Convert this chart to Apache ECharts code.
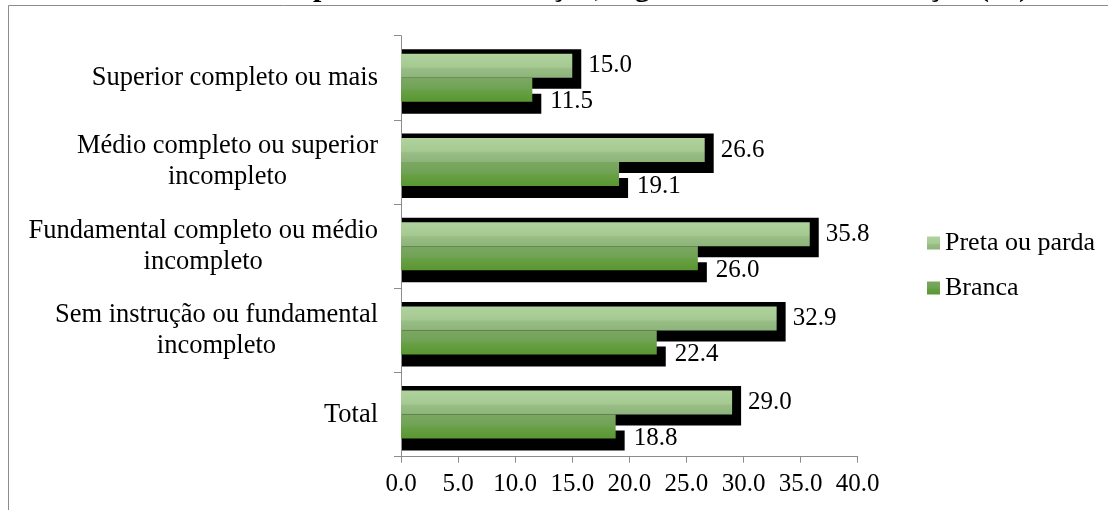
<!DOCTYPE html>
<html>
<head>
<meta charset="utf-8">
<script src="https://cdn.jsdelivr.net/npm/echarts@6/dist/echarts.min.js"></script>
<style>
html,body{margin:0;padding:0;background:#fff;}
#chart{width:1108px;height:510px;}
</style>
</head>
<body>
<div id="chart"></div>
<script>
// ---- data ----
const titleText = 'Taxa composta de subutilização, segundo o nível de instrução (%)';
const categories = [
  'Superior completo ou mais',
  'Médio completo ou superior\nincompleto',
  'Fundamental completo ou médio\nincompleto',
  'Sem instrução ou fundamental\nincompleto',
  'Total'
];
const seriesNames = ['Preta ou parda', 'Branca'];
const pretaParda = [15.0, 26.6, 35.8, 32.9, 29.0];
const branca = [11.5, 19.1, 26.0, 22.4, 18.8];
const xTicks = { min: 0, max: 40, interval: 5 };

// ---- styling ----
const FONT = "'Liberation Serif', 'Times New Roman', serif";
const GAP = 0.43;
const lightGrad = new echarts.graphic.LinearGradient(0, 0, 0, 1, [
  {offset: 0, color: '#b0d39e'},
  {offset: 0.55, color: '#a5c991'},
  {offset: 0.62, color: '#98be85'},
  {offset: 1, color: '#8cb379'}
]);
const darkGrad = new echarts.graphic.LinearGradient(0, 0, 0, 1, [
  {offset: 0, color: '#7ca862'},
  {offset: 0.45, color: '#70a255'},
  {offset: 0.55, color: '#67a043'},
  {offset: 1, color: '#5a9632'}
]);

const shadowData = [];
[pretaParda, branca].forEach((arr, s) => arr.forEach((v, i) => shadowData.push([v, i, s])));

const chart = echarts.init(document.getElementById('chart'), null, {renderer: 'canvas'});
chart.setOption({
  animation: false,
  backgroundColor: '#fff',
  graphic: [
    {type: 'rect', z: -10, silent: true,
     shape: {x: 8.5, y: 5.5, width: 1200, height: 600},
     style: {fill: '#fff', stroke: '#8c8c8c', lineWidth: 1}},
    {type: 'text', z: 10, left: 190, top: -27,
     style: {text: titleText, font: 'bold 30px ' + FONT, fill: '#000'}}
  ],
  grid: {left: 401, top: 35.7, right: 250.3, bottom: 53.3, containLabel: false},
  legend: {
    orient: 'vertical', left: 922, top: 225, itemWidth: 13, itemHeight: 13, itemGap: 19,
    icon: 'rect', data: seriesNames,
    textStyle: {fontFamily: FONT, fontSize: 26, color: '#000'}
  },
  xAxis: {
    type: 'value', min: xTicks.min, max: xTicks.max, interval: xTicks.interval,
    axisLine: {show: true, lineStyle: {color: '#8c8c8c', width: 1}},
    axisTick: {show: true, length: 6, lineStyle: {color: '#8c8c8c'}},
    splitLine: {show: false},
    axisLabel: {fontFamily: FONT, fontSize: 25, color: '#000', margin: 15,
      formatter: v => v.toFixed(1)}
  },
  yAxis: {
    type: 'category', data: categories, inverse: true,
    axisLine: {show: true, lineStyle: {color: '#8c8c8c', width: 1}},
    axisTick: {show: true, length: 7, lineStyle: {color: '#8c8c8c'}},
    axisLabel: {
      margin: 23, color: '#000',
      formatter: v => v.split('\n').map(l => '{c|' + l + '}').join('\n'),
      rich: {c: {align: 'center', fontFamily: FONT, fontSize: 26.5, lineHeight: 31, color: '#000'}}
    }
  },
  series: [
    {
      type: 'custom', name: 'sombra', z: 1, silent: true,
      encode: {x: 0, y: 1},
      data: shadowData,
      renderItem: (params, api) => {
        const v = api.value(0), ci = api.value(1), s = api.value(2);
        const end = api.coord([v, ci]);
        const start = api.coord([0, ci]);
        const band = api.size([0, 1])[1];
        const bw = band * (1 - GAP) / 2;
        const top = end[1] - bw + s * bw;
        let y0, y1;
        if (s === 0) { y0 = top - 4.5; y1 = top + bw + 11; }
        else { y0 = top + 16; y1 = top + bw + 12; }
        return {type: 'rect', shape: {x: start[0] + 1, y: y0, width: end[0] - start[0] + 8, height: y1 - y0},
                style: {fill: '#000'}};
      }
    },
    {
      type: 'bar', name: seriesNames[0], data: pretaParda, z: 3,
      barGap: '0%', barCategoryGap: (GAP * 100) + '%',
      itemStyle: {color: lightGrad},
      label: {show: true, position: 'right', distance: 16, formatter: p => p.value.toFixed(1),
        fontFamily: FONT, fontSize: 25, color: '#000'}
    },
    {
      type: 'bar', name: seriesNames[1], data: branca, z: 3,
      barGap: '0%', barCategoryGap: (GAP * 100) + '%',
      itemStyle: {color: darkGrad},
      label: {show: true, position: 'right', distance: 18, offset: [0, 12], formatter: p => p.value.toFixed(1),
        fontFamily: FONT, fontSize: 25, color: '#000'}
    }
  ]
});
</script>
</body>
</html>
